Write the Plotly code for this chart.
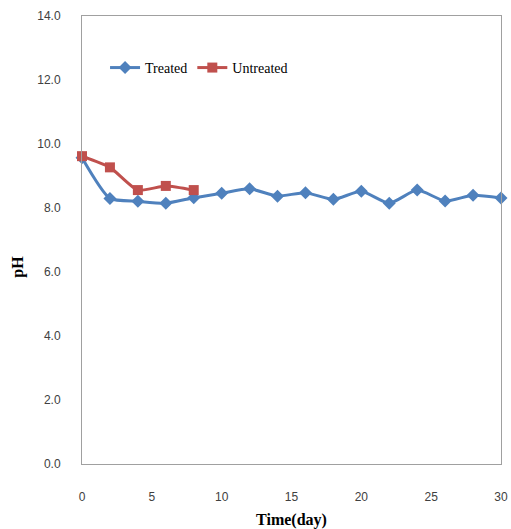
import plotly.graph_objects as go

days_treated = [0, 2, 4, 6, 8, 10, 12, 14, 16, 18, 20, 22, 24, 26, 28, 30]
ph_treated = [9.57, 8.30, 8.21, 8.15, 8.32, 8.46, 8.60, 8.37, 8.48, 8.27, 8.52, 8.15, 8.56, 8.22, 8.40, 8.31]
days_untreated = [0, 2, 4, 6, 8]
ph_untreated = [9.62, 9.27, 8.56, 8.69, 8.56]

x_ticks = [0, 5, 10, 15, 20, 25, 30]
y_ticks = [0, 2, 4, 6, 8, 10, 12, 14]
y_tick_labels = ["0.0", "2.0", "4.0", "6.0", "8.0", "10.0", "12.0", "14.0"]

fig = go.Figure()
fig.add_trace(go.Scatter(
    x=days_treated, y=ph_treated, name="Treated", mode="lines+markers",
    line=dict(color="#4F81BD", width=3, shape="spline", smoothing=0.6),
    marker=dict(symbol="diamond", size=10, color="#4F81BD"),
    cliponaxis=False,
))
fig.add_trace(go.Scatter(
    x=days_untreated, y=ph_untreated, name="Untreated", mode="lines+markers",
    line=dict(color="#C0504D", width=3, shape="spline", smoothing=0.6),
    marker=dict(symbol="square", size=10, color="#C0504D"),
    cliponaxis=False,
))

axis_font = dict(family="Liberation Sans, Arial, sans-serif", size=12, color="#404040")
title_font = dict(family="Liberation Serif, Times New Roman, serif", size=16, color="black")
fig.update_layout(
    width=511, height=529,
    margin=dict(l=82, r=10, t=16, b=65),
    paper_bgcolor="white", plot_bgcolor="white",
    showlegend=True,
    legend=dict(orientation="h", x=0.055, y=0.884, xanchor="left", yanchor="middle",
                font=dict(family="Liberation Serif, Times New Roman, serif", size=14, color="black"),
                bgcolor="rgba(0,0,0,0)", itemwidth=30, tracegroupgap=0),
    xaxis=dict(range=[0, 30], tickvals=x_ticks, showgrid=False, zeroline=False,
               showline=True, linecolor="#A0A0A0", linewidth=1, mirror=True, automargin=False,
               ticks="", tickfont=axis_font, ticklabelstandoff=22,
               title=dict(text="<b>Time(day)</b>", font=title_font)),
    yaxis=dict(range=[0, 14], tickvals=y_ticks, ticktext=y_tick_labels, showgrid=False, zeroline=False,
               showline=True, linecolor="#A0A0A0", linewidth=1, mirror=True, automargin=False,
               ticks="", tickfont=axis_font, ticklabelstandoff=18),
    annotations=[dict(text="<b>pH</b>", xref="paper", yref="paper", x=-0.153, y=0.44,
                      xanchor="center", yanchor="middle", textangle=-90, showarrow=False,
                      font=title_font)],
)

fig.write_html("out.html")
